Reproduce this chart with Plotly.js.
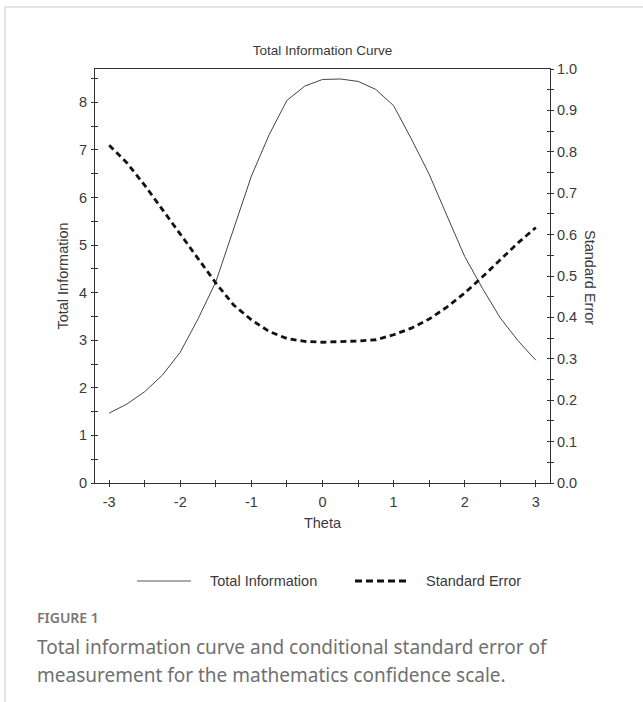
<!DOCTYPE html>
<html><head><meta charset="utf-8">
<script src="https://cdn.plot.ly/plotly-3.0.1.min.js"></script>
<style>html,body{margin:0;padding:0;background:#fff}#chart{width:643px;height:702px}</style>
</head><body><div id="chart"></div>
<script>
const theta = [-3,-2.75,-2.5,-2.25,-2,-1.75,-1.5,-1.25,-1,-0.75,-0.5,-0.25,0,0.25,0.5,0.75,1,1.25,1.5,1.75,2,2.25,2.5,2.75,3];
const totalInformation = [1.47,1.66,1.92,2.27,2.75,3.45,4.23,5.35,6.45,7.32,8.04,8.34,8.48,8.49,8.44,8.27,7.93,7.23,6.49,5.62,4.76,4.09,3.47,2.99,2.58];
const standardError = [0.816,0.773,0.719,0.661,0.601,0.542,0.483,0.430,0.394,0.366,0.349,0.342,0.340,0.341,0.343,0.346,0.358,0.374,0.396,0.425,0.459,0.498,0.538,0.580,0.617];
const xTickVals = [-3,-2,-1,0,1,2,3];
const yLeftTickVals = [0,1,2,3,4,5,6,7,8];
const yRightTickVals = [0,0.1,0.2,0.3,0.4,0.5,0.6,0.7,0.8,0.9,1.0];

const chartFont = 'Liberation Sans, Arial, sans-serif';
const capFont = 'Noto Sans, Open Sans, sans-serif';
const axCol = '#333';
const tf = {family: chartFont, size: 14.5, color: '#3a3a3a'};
const titleFont = {family: chartFont, size: 13.5, color: '#3a3a3a'};

const traces = [
  {x: theta, y: totalInformation, type: 'scatter', mode: 'lines', name: 'Total Information',
   line: {color: '#444', width: 1}, xaxis: 'x', yaxis: 'y', showlegend: false},
  {x: theta, y: standardError, type: 'scatter', mode: 'lines', name: 'Standard Error',
   line: {color: '#111', width: 2.8, dash: '6px,4px'}, xaxis: 'x', yaxis: 'y2', showlegend: false},
  {x: [], y: [], xaxis: 'x3', yaxis: 'y3', type: 'scatter', showlegend: false, hoverinfo: 'skip'},
  {x: [], y: [], xaxis: 'x3', yaxis: 'y4', type: 'scatter', showlegend: false, hoverinfo: 'skip'}
];

const px = v => (v - 95) / 455;
const py = v => (483 - v) / 414;

const baseX = {range: [-3.2, 3.2], showgrid: false, zeroline: false, fixedrange: true};
const layout = {
  width: 643, height: 702,
  margin: {l: 95, r: 93, t: 69, b: 219},
  paper_bgcolor: '#fff', plot_bgcolor: '#fff',
  font: tf,
  title: {text: 'Total Information Curve', font: titleFont, x: 0.5, xref: 'paper', xanchor: 'center',
          y: 1 - 50/702, yref: 'container', yanchor: 'middle'},
  xaxis: Object.assign({}, baseX, {
    showline: true, linecolor: axCol, linewidth: 1, mirror: true,
    tickmode: 'array', tickvals: xTickVals, ticktext: xTickVals.map(String),
    ticks: 'outside', ticklen: 3, tickcolor: axCol, tickwidth: 1, ticklabelstandoff: 3,
    minor: {tickmode: 'array', tickvals: [-2.5,-1.5,-0.5,0.5,1.5,2.5], ticks: 'outside', ticklen: 3, tickcolor: axCol, showgrid: false},
    tickfont: tf, title: {text: 'Theta', font: tf, standoff: 8}, automargin: false
  }),
  xaxis3: Object.assign({}, baseX, {
    overlaying: 'x', anchor: 'y3', showline: false, showticklabels: false,
    tickmode: 'array', tickvals: xTickVals, ticks: 'inside', ticklen: 3, tickcolor: axCol,
    minor: {tickmode: 'array', tickvals: [-2.5,-1.5,-0.5,0.5,1.5,2.5], ticks: 'inside', ticklen: 3, tickcolor: axCol, showgrid: false}
  }),
  yaxis: {
    range: [0, 8.7], showgrid: false, zeroline: false, fixedrange: true,
    showline: true, linecolor: axCol, linewidth: 1,
    tickmode: 'array', tickvals: yLeftTickVals, ticktext: yLeftTickVals.map(String),
    ticks: 'outside', ticklen: 3, tickcolor: axCol, ticklabelstandoff: 1,
    minor: {tickmode: 'array', tickvals: [0.5,1.5,2.5,3.5,4.5,5.5,6.5,7.5,8.5], ticks: 'outside', ticklen: 3, tickcolor: axCol, showgrid: false},
    tickfont: tf, title: {text: 'Total Information', font: tf, standoff: 6}, automargin: false
  },
  yaxis3: {
    range: [0, 8.7], overlaying: 'y', anchor: 'x3', side: 'left', showgrid: false, zeroline: false,
    showline: false, showticklabels: false,
    tickmode: 'array', tickvals: yLeftTickVals, ticks: 'inside', ticklen: 3, tickcolor: axCol,
    minor: {tickmode: 'array', tickvals: [0.5,1.5,2.5,3.5,4.5,5.5,6.5,7.5,8.5], ticks: 'inside', ticklen: 3, tickcolor: axCol, showgrid: false}
  },
  yaxis2: {
    range: [0, 1], overlaying: 'y', side: 'right', anchor: 'x', showgrid: false, zeroline: false, fixedrange: true,
    showline: true, linecolor: axCol, linewidth: 1,
    tickmode: 'array', tickvals: yRightTickVals, ticktext: yRightTickVals.map(v => v.toFixed(1)),
    ticks: 'outside', ticklen: 3, tickcolor: axCol,
    minor: {dtick: 0.05, tick0: 0, ticks: 'outside', ticklen: 3, tickcolor: axCol, showgrid: false},
    tickfont: tf, automargin: false
  },
  yaxis4: {
    range: [0, 1], overlaying: 'y', side: 'right', anchor: 'x3', showgrid: false, zeroline: false,
    showline: false, showticklabels: false,
    tickmode: 'array', tickvals: yRightTickVals, ticks: 'inside', ticklen: 3, tickcolor: axCol,
    minor: {dtick: 0.05, tick0: 0, ticks: 'inside', ticklen: 3, tickcolor: axCol, showgrid: false}
  },
  shapes: [
    {type: 'line', xref: 'paper', yref: 'paper', x0: px(5), x1: px(643), y0: py(7), y1: py(7), line: {color: '#c8c8c8', width: 1}},
    {type: 'line', xref: 'paper', yref: 'paper', x0: px(5), x1: px(5), y0: py(7), y1: py(702), line: {color: '#c8c8c8', width: 1}},
    {type: 'line', xref: 'paper', yref: 'paper', x0: px(137), x1: px(191), y0: py(581), y1: py(581), line: {color: '#555', width: 1}},
    {type: 'line', xref: 'paper', yref: 'paper', x0: px(355), x1: px(406), y0: py(581), y1: py(581), line: {color: '#111', width: 3, dash: '7px,4px'}}
  ],
  annotations: [
    {text: 'Standard Error', textangle: 90, xref: 'paper', yref: 'paper', x: px(590), y: py(277), xanchor: 'center', yanchor: 'middle', showarrow: false, font: tf},
    {text: 'Total Information', xref: 'paper', yref: 'paper', x: px(208), y: py(581), xanchor: 'left', yanchor: 'middle', showarrow: false, font: tf},
    {text: 'Standard Error', xref: 'paper', yref: 'paper', x: px(424), y: py(581), xanchor: 'left', yanchor: 'middle', showarrow: false, font: tf},
    {text: 'FIGURE 1', xref: 'paper', yref: 'paper', x: px(35), y: py(617), xanchor: 'left', yanchor: 'middle', showarrow: false,
     font: {family: capFont, size: 14, color: '#777', weight: 600}},
    {text: 'Total information curve and conditional standard error of', xref: 'paper', yref: 'paper', x: px(35), y: py(647), xanchor: 'left', yanchor: 'middle', showarrow: false,
     font: {family: capFont, size: 19, color: '#707070'}},
    {text: 'measurement for the mathematics confidence scale.', xref: 'paper', yref: 'paper', x: px(35), y: py(675), xanchor: 'left', yanchor: 'middle', showarrow: false,
     font: {family: capFont, size: 19, color: '#707070'}}
  ]
};

Plotly.newPlot('chart', traces, layout, {displayModeBar: false, staticPlot: true});
</script>
</body></html>
